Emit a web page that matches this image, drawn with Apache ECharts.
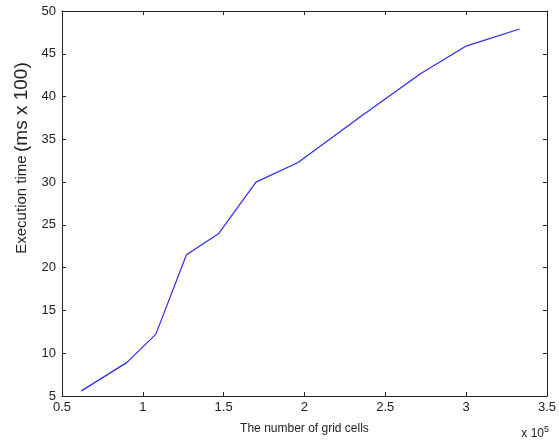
<!DOCTYPE html>
<html>
<head>
<meta charset="utf-8">
<script src="https://cdn.jsdelivr.net/npm/echarts@6/dist/echarts.min.js"></script>
<style>
  html, body { margin: 0; padding: 0; background: #fff; }
  #chart { width: 559px; height: 444px; }
</style>
</head>
<body>
<div id="chart"></div>
<script>
// grid cells (x 10^5) vs execution time (ms x 100)
const gridCells = [0.62, 0.90, 1.08, 1.27, 1.47, 1.70, 1.96, 2.35, 2.72, 3.00, 3.33];
const execTime = [5.6, 8.9, 12.2, 21.5, 24.0, 30.0, 32.3, 37.7, 42.7, 45.9, 47.9];

const xTicks = [0.5, 1, 1.5, 2, 2.5, 3, 3.5];
const yTicks = [5, 10, 15, 20, 25, 30, 35, 40, 45, 50];

const font = "Liberation Sans, Arial, sans-serif";
const chart = echarts.init(document.getElementById("chart"));

const boxAxis = {
  axisLine: { show: true, onZero: false, lineStyle: { color: "#222", width: 1 } },
  axisTick: { show: true, inside: true, length: 4, lineStyle: { color: "#222" } },
  splitLine: { show: false }
};

chart.setOption({
  animation: false,
  backgroundColor: "#fff",
  grid: { left: 62, right: 9, top: 11, bottom: 48 },
  xAxis: [
    {
      type: "value",
      min: xTicks[0],
      max: xTicks[xTicks.length - 1],
      interval: 0.5,
      ...boxAxis,
      axisLabel: { color: "#222", fontSize: 13, fontFamily: font, margin: 5 },
      name: "The number of grid cells",
      nameLocation: "middle",
      nameGap: 27,
      nameTextStyle: { color: "#222", fontSize: 12, fontFamily: font }
    },
    {
      type: "value",
      position: "top",
      min: xTicks[0],
      max: xTicks[xTicks.length - 1],
      interval: 0.5,
      ...boxAxis,
      axisLabel: { show: false }
    }
  ],
  yAxis: [
    {
      type: "value",
      min: yTicks[0],
      max: yTicks[yTicks.length - 1],
      interval: 5,
      ...boxAxis,
      axisLabel: { color: "#222", fontSize: 13, fontFamily: font, margin: 6 }
    },
    {
      type: "value",
      position: "right",
      min: yTicks[0],
      max: yTicks[yTicks.length - 1],
      interval: 5,
      ...boxAxis,
      axisLabel: { show: false }
    }
  ],
  graphic: [
    {
      type: "text",
      x: 22,
      y: 158,
      rotation: Math.PI / 2,
      style: {
        text: "{a|Execution time} {b|(ms x 100)}",
        align: "center",
        verticalAlign: "middle",
        fill: "#222",
        rich: {
          a: { fontSize: 15, fontFamily: font, fill: "#222" },
          b: { fontSize: 19, fontFamily: font, fill: "#222" }
        }
      }
    },
    {
      type: "text",
      right: 10,
      bottom: 4,
      style: {
        text: "{a|x 10}{s|5}",
        fill: "#222",
        rich: {
          a: { fontSize: 12, fontFamily: font, fill: "#222" },
          s: { fontSize: 9, fontFamily: font, fill: "#222", verticalAlign: "top", padding: [0, 0, 8, 0] }
        }
      }
    }
  ],
  series: [
    {
      type: "line",
      data: gridCells.map((x, i) => [x, execTime[i]]),
      symbol: "none",
      lineStyle: { color: "#2a2af0", width: 1.2 }
    }
  ]
});
</script>
</body>
</html>
